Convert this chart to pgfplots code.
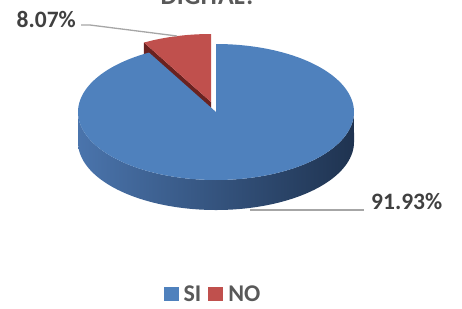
\documentclass[border=0pt]{standalone}
\usepackage{pgfplots}
\pgfplotsset{compat=1.18}
\usepackage{pgfplotstable}
\usepackage{fontspec}
\setmainfont{Carlito}
\definecolor{siblue}{HTML}{4F81BD}
\definecolor{nored}{HTML}{C0504D}
\definecolor{nodark}{HTML}{6A2220}
\definecolor{sideL}{HTML}{4A74AC}
\definecolor{sideM}{HTML}{2E4A6E}
\definecolor{sideR}{HTML}{1F3350}
\definecolor{lbl}{HTML}{404040}
\definecolor{leg}{HTML}{595959}
\definecolor{lead}{HTML}{A6A6A6}

\pgfplotstableread{
cat share
SI 91.93
NO 8.07
}\piedata

% sector of the top face: options, cx, cy, t0, t1 (radii 138 x 68)
\newcommand{\sector}[5]{%
\addplot[#1, domain=-1:201, samples=203]
 ({#2+138*(x>-0.5)*(x<200.5)*cos(#4+(#5-#4)*min(max(x/200,0),1))},
  {#3-68*(x>-0.5)*(x<200.5)*sin(#4+(#5-#4)*min(max(x/200,0),1))});}

\begin{document}
\begin{tikzpicture}
\pgfplotstablegetelem{0}{share}\of\piedata \let\sSI\pgfplotsretval
\pgfplotstablegetelem{1}{share}\of\piedata \let\sNO\pgfplotsretval
\pgfmathsetmacro{\tB}{90+3.6*\sNO}
\pgfmathsetmacro{\tC}{\tB+3.6*\sSI}
\pgfmathsetmacro{\rx}{211+138*cos(\tB)}
\pgfmathsetmacro{\ry}{102-68*sin(\tB)}
\pgfmathsetmacro{\ryb}{\ry+30}
\begin{axis}[at={(0,0)}, anchor=south west, scale only axis,
  width=462pt, height=308pt, xmin=0, xmax=462, ymin=0, ymax=308,
  y dir=reverse, axis lines=none, clip=false,
  legend style={draw=none, fill=none, at={(axis cs:213,294)}, anchor=center,
    legend columns=2, font=\bfseries\fontsize{24}{26}\selectfont, text=leg,
    inner sep=0pt},
  legend cell align=left,
  legend image code/.code={\fill[#1] (-1pt,-7pt) rectangle (14pt,7pt);},
  ]
% red slice: cut face then top face
\addplot[draw=none, fill=nodark, forget plot] coordinates
  {(211,102) (\rx,\ry) (\rx,\ryb) (211,132)} -- cycle;
\sector{draw=none, fill=nored, forget plot}{211}{102}{90}{\tB}
% blue slice: front side then top face
\addplot[draw=none, left color=sideL, middle color=sideM, right color=sideR,
  domain=180:540, samples=361, forget plot]
  ({216+138*cos(x)}, {112+30*(x<=360)-68*sin(x)*(x<=360)+68*sin(x)*(x>360)});
\sector{draw=none, fill=siblue, forget plot}{216}{112}{\tB}{\tC}
% leader lines
\addplot[lead, line width=1.3pt, forget plot] coordinates {(81,25) (90,25) (177,36)};
\addplot[lead, line width=1.3pt, forget plot] coordinates {(250,210) (364,210)};
% labels
\node[anchor=base east, inner sep=0pt, text=lbl, font=\bfseries\fontsize{23.5}{26}\selectfont]
  at (axis cs:76,27) {8.07\%};
\node[anchor=base west, inner sep=0pt, text=lbl, font=\bfseries\fontsize{23.5}{26}\selectfont]
  at (axis cs:371,209) {91.93\%};
\node[anchor=base, inner sep=0pt, text=leg, font=\bfseries\fontsize{26}{30}\selectfont]
  at (axis cs:208.5,4) {DIGITAL?};
% legend
\addlegendimage{fill=siblue, draw=none}
\addlegendentry{\kern3pt SI\kern5pt}
\addlegendimage{fill=nored, draw=none}
\addlegendentry{\kern3pt NO}
\end{axis}
\pgfresetboundingbox
\path[use as bounding box] (0,0) rectangle (462pt,308pt);
\end{tikzpicture}
\end{document}
